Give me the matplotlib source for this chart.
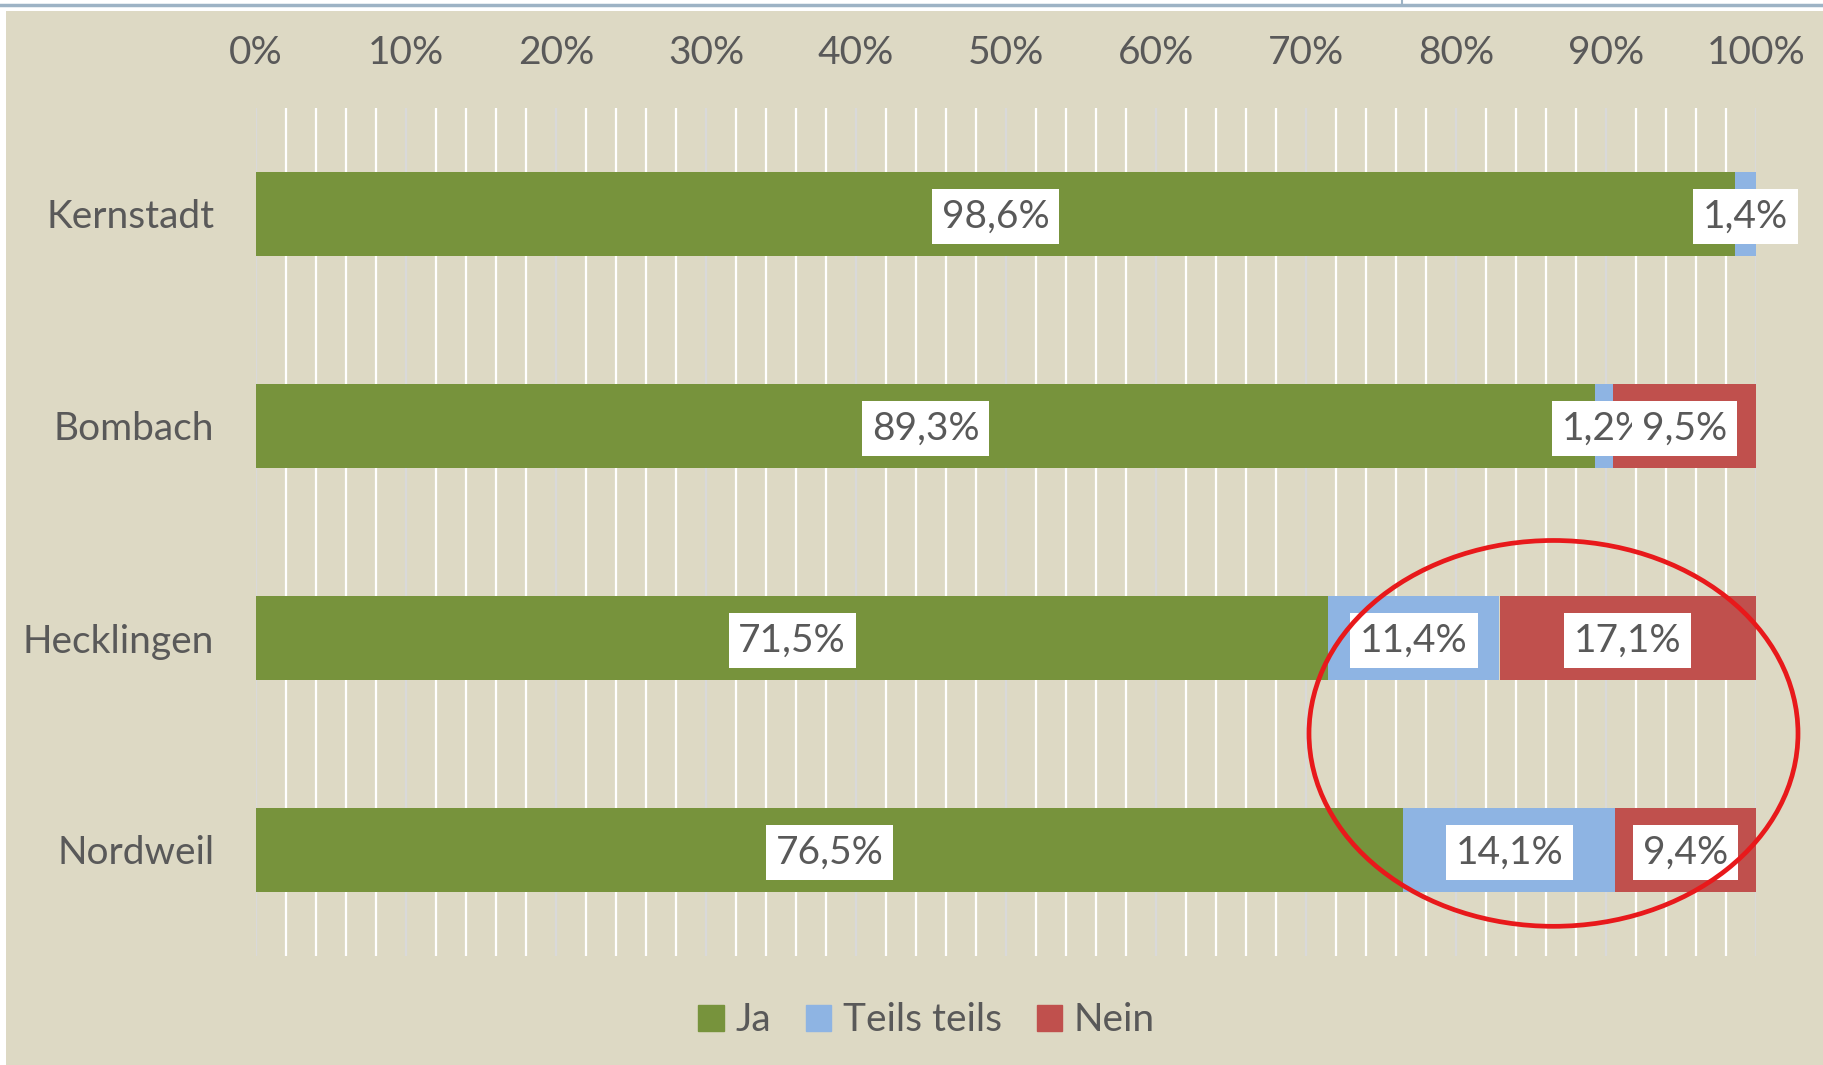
import matplotlib.pyplot as plt
import matplotlib.patches as mpatches
from matplotlib.lines import Line2D
import numpy as np

plt.rcParams['font.family'] = ['Lato', 'DejaVu Sans']

categories = ['Kernstadt', 'Bombach', 'Hecklingen', 'Nordweil']
series_names = ['Ja', 'Teils teils', 'Nein']
ja = [98.6, 89.3, 71.5, 76.5]
teils = [1.4, 1.2, 11.4, 14.1]
nein = [0.0, 9.5, 17.1, 9.4]

colors = ['#77933C', '#8EB4E3', '#C0504D']
bg = '#DDD9C4'
txt = '#595959'
fs = 28

fig = plt.figure(figsize=(18.24, 10.65), dpi=100)
fig.patch.set_facecolor('white')

# beige chart area + thin frame line at top, as in the screenshot
fig.patches.append(mpatches.Rectangle((6 / 1824, 0), 1, 1 - 11 / 1065,
                                      transform=fig.transFigure, facecolor=bg,
                                      edgecolor='none', zorder=-10))
fig.lines.append(Line2D([0, 1], [1 - 5 / 1065] * 2, transform=fig.transFigure,
                        color='#9DB3C5', lw=2.5))
fig.lines.append(Line2D([1402 / 1824] * 2, [1 - 5 / 1065, 1], transform=fig.transFigure,
                        color='#9DB3C5', lw=1.5))

ax = fig.add_axes([256 / 1824, 1 - 956 / 1065, 1500 / 1824, 848 / 1065])
ax.set_facecolor('none')

y = np.arange(len(categories))
data = [ja, teils, nein]
left = np.zeros(len(categories))
for vals, name, c in zip(data, series_names, colors):
    ax.barh(y, vals, left=left, height=0.4, color=c, label=name, zorder=3)
    for i, v in enumerate(vals):
        if v > 0:
            ax.text(left[i] + v / 2, y[i] + 0.012, f"{v:.1f}".replace('.', ',') + '%',
                    ha='center', va='center', fontsize=fs, color=txt, zorder=5,
                    bbox=dict(boxstyle='square,pad=0.25', fc='white', ec='none'))
    left += np.array(vals)

ax.set_xlim(0, 100)
ax.set_ylim(3.5, -0.5)
ax.set_yticks(y)
ax.set_yticklabels(categories)
ax.set_xticks(np.arange(0, 101, 10))
ax.set_xticklabels([f"{v}%" for v in range(0, 101, 10)])
ax.set_xticks(np.arange(0, 101, 2), minor=True)
ax.xaxis.tick_top()
ax.tick_params(axis='x', which='both', length=0, pad=27, labelsize=fs, labelcolor=txt)
ax.tick_params(axis='y', length=0, pad=30, labelsize=fs, labelcolor=txt)
ax.grid(axis='x', which='minor', color='white', lw=1.6, zorder=0)
ax.grid(axis='x', which='major', color='#D9D9D9', lw=1.6, zorder=1)
ax.set_axisbelow(True)
for s in ax.spines.values():
    s.set_visible(False)

# red highlight ellipse
ax.add_patch(mpatches.Ellipse((86.5, 2.45), 32.6, 1.82, fill=False,
                              edgecolor='#E8191B', lw=3.4, clip_on=False, zorder=6))

handles = [mpatches.Patch(color=c) for c in colors]
fig.legend(handles, series_names, loc='center', bbox_to_anchor=(0.508, 0.042),
           ncol=3, frameon=False, fontsize=fs, labelcolor=txt,
           handlelength=0.65, handleheight=0.65, handletextpad=0.3, columnspacing=0.9)

fig.savefig('out.png', dpi=100, facecolor=fig.get_facecolor())
